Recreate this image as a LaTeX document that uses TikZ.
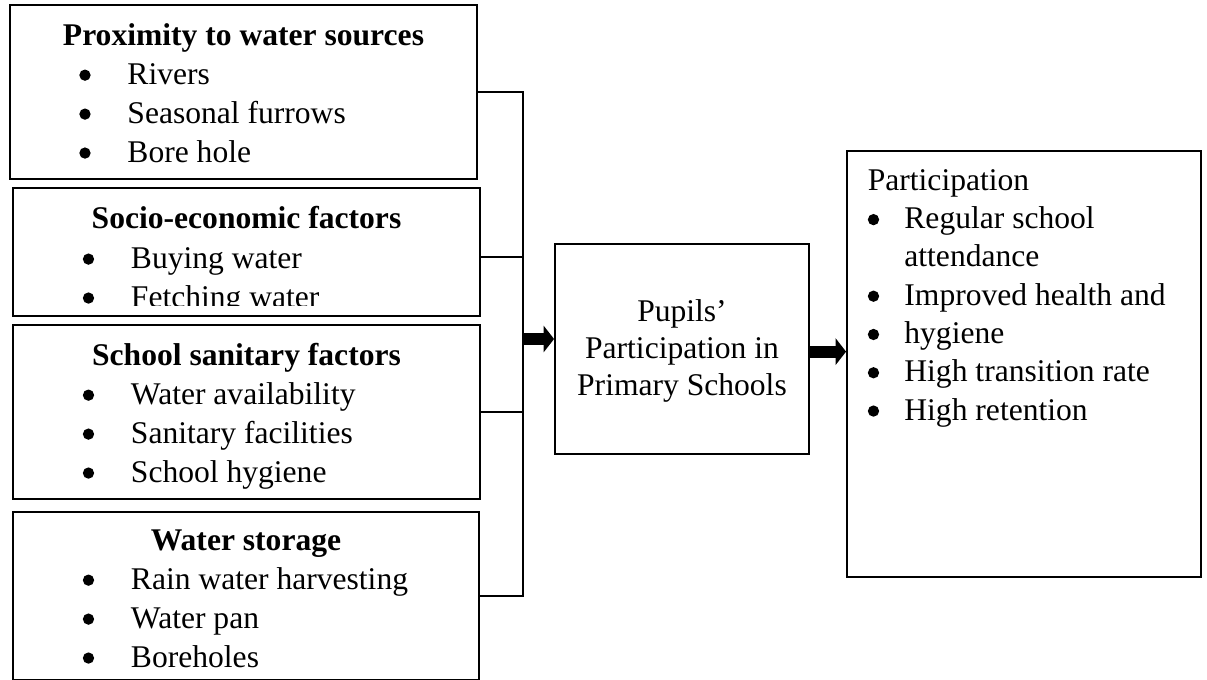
\documentclass[tikz,border=0pt,12pt]{standalone}
\usepackage{fontspec}
\setmainfont{Liberation Serif}
\usetikzlibrary{fit,arrows.meta}

\newcommand{\bltdot}{\tikz[baseline=0pt]\fill (2.15pt,3.4pt) circle[radius=2.15pt];}
\newcommand{\blt}{\makebox[18.3pt][l]{\bltdot}}
\newcommand{\bltr}{\makebox[13.9pt][l]{\bltdot}}

\begin{document}
\begin{tikzpicture}[x=0.38pt,y=-0.38pt,
    box/.style={draw,line width=0.7pt,inner sep=0pt},
    head/.style={font=\bfseries,anchor=base,inner sep=0pt},
    items/.style={align=left,anchor=base west,inner sep=0pt,font=\fontsize{12pt}{14.8pt}\selectfont},
    link/.style={line width=0.7pt},
    fat/.style={line width=4.6pt,-{Triangle[length=4pt,width=10pt]}}]
    \useasboundingbox (0,0) rectangle (1207,679);
    \clip (0,0) rectangle (1207,679);

    % factor boxes (list nodes sit on the baseline of their last line)
    \node[box,fit={(10,5) (477,179)}] (prox) {};
    \node[box,fit={(13,188) (480,316)}] (socio) {};
    \node[box,fit={(13,325) (480,499)}] (sanit) {};
    \node[box,fit={(13,512) (479,680)}] (store) {};

    \node[head] (proxhead) at (243.5,45) {Proximity to water sources};
    \node[items] (proxlist) at (78.8,162) {\blt Rivers\\\blt Seasonal furrows\\\blt Bore hole};

    \node[head] (sociohead) at (246.5,228) {Socio-economic factors};
    \begin{scope}
        \clip (13,188) rectangle (480,305);
        \node[items] (sociolist) at (82.3,307) {\blt Buying water\\\blt Fetching water};
    \end{scope}

    \node[head] (sanithead) at (246.5,365) {School sanitary factors};
    \node[items] (sanitlist) at (82.3,482) {\blt Water availability\\\blt Sanitary facilities\\\blt School hygiene};

    \node[head] (storehead) at (246,550) {Water storage};
    \node[items] (storelist) at (82.3,667) {\blt Rain water harvesting\\\blt Water pan\\\blt Boreholes};

    % middle and outcome
    \node[box,fit={(555,244) (809,454)}] (pupil) {};
    \node[align=center,anchor=base,inner sep=0pt,font=\fontsize{12pt}{14.06pt}\selectfont] (pupiltext)
        at (682,395) {Pupils’\\Participation in\\Primary Schools};
    \node[box,fit={(847,151) (1201,577)}] (part) {};
    \node[items,font=\fontsize{12pt}{14.55pt}\selectfont] (partlist) at (867.3,420)
        {Participation\\\bltr Regular school\\\hspace{13.9pt}attendance\\
        \bltr Improved health and\\\bltr hygiene\\\bltr High transition rate\\\bltr High retention};

    % connectors
    \coordinate (bus) at (523,0);
    \draw[link] (prox.east) -- (prox.east -| bus) -- (store.east -| bus) -- (store.east);
    \draw[link] ([yshift=-1.9pt]socio.east) -- ([yshift=-1.9pt]socio.east -| bus);
    \draw[link] (sanit.east) -- (sanit.east -| bus);

    \coordinate (feed) at (523,339);
    \draw[fat] (feed) -- (feed -| pupil.west);
    \draw[fat] ([yshift=-1pt]pupil.east) -- ([yshift=-1pt]part.west |- pupil.east);
\end{tikzpicture}
\end{document}
